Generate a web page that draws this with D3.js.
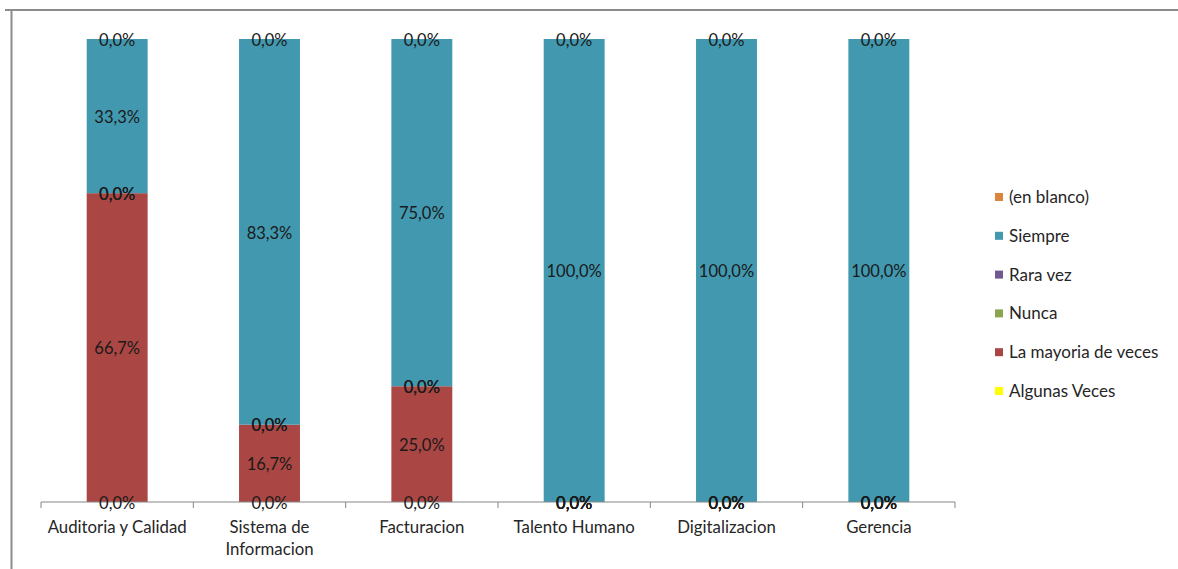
<!DOCTYPE html>
<html><head><meta charset="utf-8">
<script src="https://cdn.jsdelivr.net/npm/d3@7"></script>
<style>body{margin:0;background:#fff}svg{display:block}text{font-family:Lato,"Open Sans",sans-serif}</style>
</head><body><svg id="c" width="1178" height="569"></svg>
<script>
const categories = ["Auditoria y Calidad", "Sistema de\nInformacion", "Facturacion", "Talento Humano", "Digitalizacion", "Gerencia"];
const seriesNames = ["Algunas Veces", "La mayoria de veces", "Nunca", "Rara vez", "Siempre", "(en blanco)"];
const algunasVeces = [0, 0, 0, 0, 0, 0];
const laMayoria = [66.7, 16.7, 25.0, 0, 0, 0];
const nunca = [0, 0, 0, 0, 0, 0];
const raraVez = [0, 0, 0, 0, 0, 0];
const siempre = [33.3, 83.3, 75.0, 100, 100, 100];
const enBlanco = [0, 0, 0, 0, 0, 0];
const colors = ["#FFFF00", "#AA4643", "#89A54E", "#71588F", "#4198AF", "#DB843D"];

const seriesValues = [algunasVeces, laMayoria, nunca, raraVez, siempre, enBlanco];
const rows = categories.map((c, i) => {
  const r = {cat: c};
  seriesNames.forEach((s, j) => r[s] = seriesValues[j][i]);
  return r;
});
const stacked = d3.stack().keys(seriesNames)(rows);

const svg = d3.select("#c");
// outer border
svg.append("line").attr("x1", 5).attr("x2", 1178).attr("y1", 10).attr("y2", 10).attr("stroke", "#8c8c8c").attr("stroke-width", 2);
svg.append("line").attr("x1", 11.5).attr("x2", 11.5).attr("y1", 10).attr("y2", 569).attr("stroke", "#8c8c8c").attr("stroke-width", 2);

const x0 = 41, x1 = 955, yTop = 39, yBot = 502;
const x = d3.scaleBand().domain(categories).range([x0, x1]).paddingInner(0.6).paddingOuter(0.3);
const xb = d3.scaleBand().domain(categories).range([x0, x1]);
const y = d3.scaleLinear().domain([0, 100]).range([yBot, yTop]);

const g = svg.append("g");
stacked.forEach((s, j) => {
  g.selectAll(null).data(s).join("rect")
    .attr("x", d => x(d.data.cat))
    .attr("width", x.bandwidth())
    .attr("y", d => y(d[1]))
    .attr("height", d => y(d[0]) - y(d[1]))
    .attr("fill", colors[j]);
});

// axis
const axis = d3.axisBottom(xb).tickSize(0).tickFormat("");
const ag = svg.append("g").attr("transform", `translate(0,${yBot})`).call(axis);
ag.select(".domain").attr("stroke", "#868686").attr("d", `M${x0},0H${x1}`);
const bounds = [x0].concat(categories.map(c => xb(c) + xb.bandwidth()));
svg.selectAll(null).data(bounds).join("line")
  .attr("x1", d => d).attr("x2", d => d).attr("y1", yBot).attr("y2", yBot + 6)
  .attr("stroke", "#868686");

// category labels
categories.forEach(c => {
  const lines = c.split("\n");
  const t = svg.append("text").attr("x", xb(c) + xb.bandwidth() / 2).attr("y", 533)
    .attr("text-anchor", "middle").attr("font-size", 16.8).attr("fill", "#262626");
  lines.forEach((l, k) => t.append("tspan").attr("x", xb(c) + xb.bandwidth() / 2).attr("dy", k ? 22 : 0).text(l));
});

// data labels
const fmt = v => v.toFixed(1).replace(".", ",") + "%";
stacked.forEach((s, j) => {
  svg.selectAll(null).data(s).join("text")
    .attr("x", d => x(d.data.cat) + x.bandwidth() / 2)
    .attr("y", d => (y(d[0]) + y(d[1])) / 2 + 1)
    .attr("dy", "0.35em")
    .attr("text-anchor", "middle").attr("font-size", 16.5).attr("fill", "#1a1a1a")
    .text(d => fmt(d[1] - d[0]));
});

// legend
const legendOrder = seriesNames.map((n, j) => ({n, c: colors[j]})).reverse();
const lg = svg.append("g");
legendOrder.forEach((d, k) => {
  const yy = 197 + k * 38.8;
  lg.append("rect").attr("x", 995).attr("y", yy - 4).attr("width", 8).attr("height", 8).attr("fill", d.c);
  lg.append("text").attr("x", 1009).attr("y", yy).attr("dy", "0.35em").attr("font-size", 17).attr("fill", "#262626").text(d.n);
});
</script></body></html>
